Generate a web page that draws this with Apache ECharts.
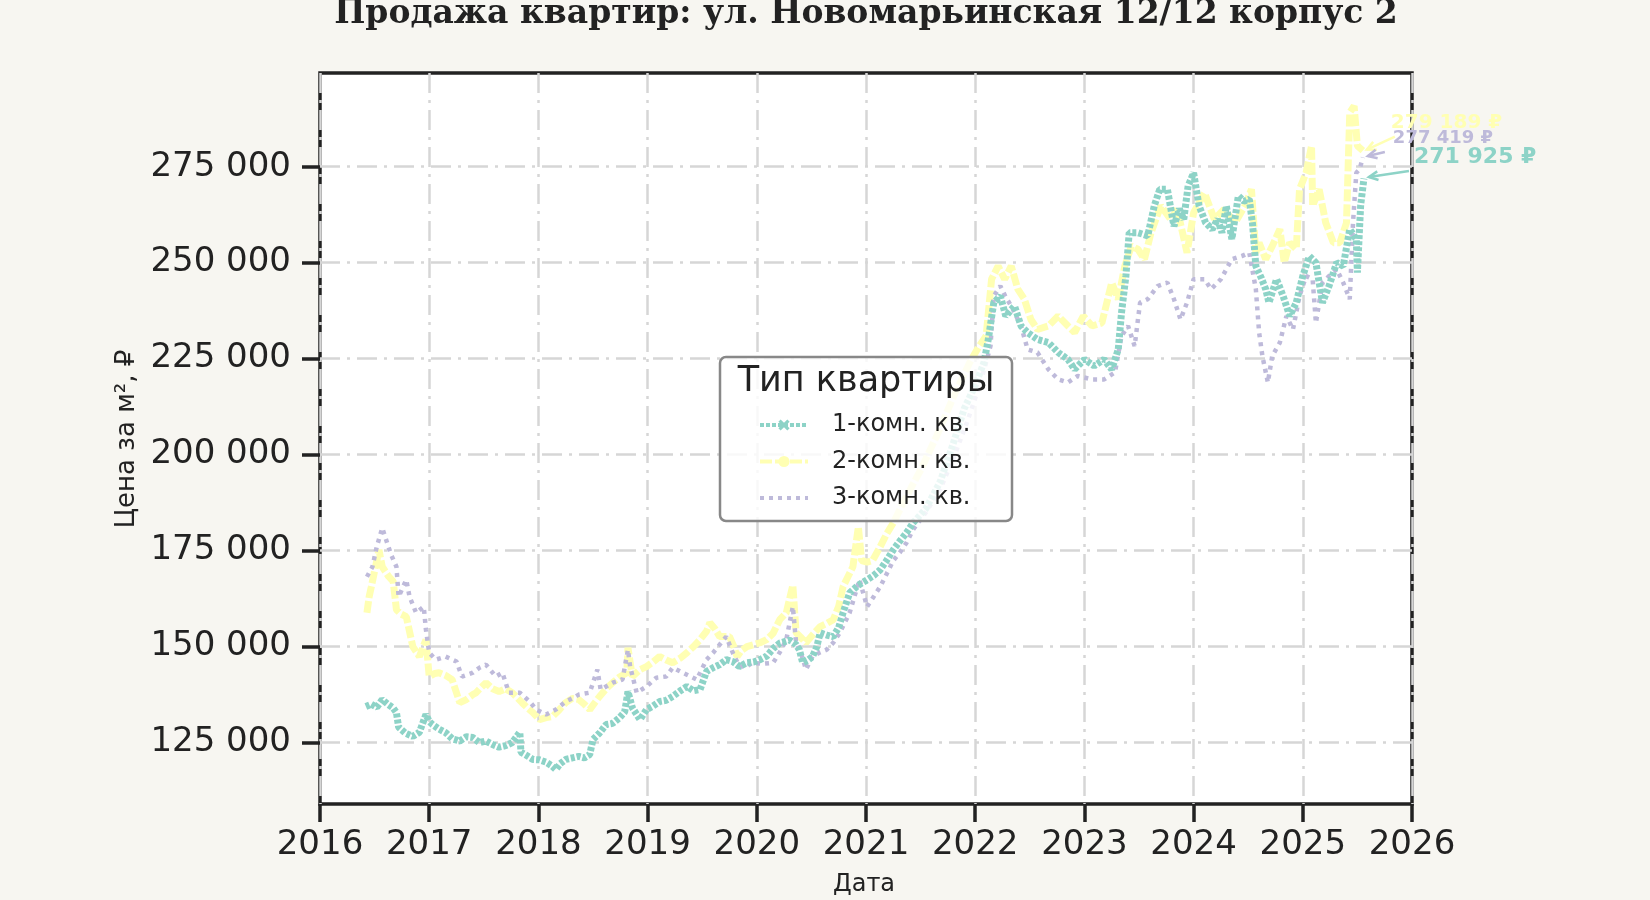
<!DOCTYPE html>
<html>
<head>
<meta charset="utf-8">
<script src="https://cdn.jsdelivr.net/npm/echarts@6/dist/echarts.min.js"></script>
<style>
    html, body { margin: 0; padding: 0; background: #f7f6f1; }
    #main { width: 1650px; height: 900px; }
</style>
</head>
<body>
<div id="main"></div>
<script>
// даты в долях года, цены за м2
var years1 = [2016.42, 2016.47, 2016.52, 2016.57, 2016.62, 2016.67, 2016.70, 2016.72, 2016.78, 2016.85, 2016.91, 2016.97,
    2017.00, 2017.03, 2017.09, 2017.15, 2017.21, 2017.28, 2017.34, 2017.40, 2017.46, 2017.52, 2017.58, 2017.64, 2017.70, 2017.76, 2017.80, 2017.83, 2017.84, 2017.90, 2017.95,
    2018.01, 2018.07, 2018.12, 2018.16, 2018.20, 2018.25, 2018.31, 2018.37, 2018.42, 2018.47, 2018.50, 2018.56, 2018.62, 2018.68, 2018.74, 2018.79, 2018.82, 2018.86, 2018.93, 2018.99,
    2019.05, 2019.11, 2019.17, 2019.23, 2019.30, 2019.36, 2019.42, 2019.48, 2019.54, 2019.60, 2019.66, 2019.72, 2019.78, 2019.84, 2019.91, 2019.97,
    2020.03, 2020.09, 2020.15, 2020.21, 2020.30, 2020.36, 2020.39, 2020.42, 2020.47, 2020.51, 2020.55, 2020.58, 2020.64, 2020.70, 2020.75, 2020.79, 2020.85, 2020.93,
    2021.01, 2021.07, 2021.13, 2021.19, 2021.25, 2021.31, 2021.37, 2021.43, 2021.55, 2021.68, 2021.80, 2021.90,
    2022.00, 2022.08, 2022.12, 2022.17, 2022.23, 2022.28, 2022.36, 2022.42, 2022.48, 2022.57, 2022.67, 2022.76, 2022.85, 2022.91,
    2023.00, 2023.09, 2023.18, 2023.25, 2023.31, 2023.34, 2023.38, 2023.41, 2023.49, 2023.58, 2023.64, 2023.69, 2023.76, 2023.82, 2023.87, 2023.91, 2023.95,
    2024.00, 2024.05, 2024.11, 2024.17, 2024.22, 2024.26, 2024.30, 2024.35, 2024.41, 2024.46, 2024.51, 2024.54, 2024.57, 2024.62, 2024.66, 2024.69, 2024.76, 2024.82, 2024.88, 2024.94,
    2025.00, 2025.06, 2025.12, 2025.18, 2025.24, 2025.31, 2025.37, 2025.43, 2025.49, 2025.50, 2025.53, 2025.56];
var price1 = [134400, 135000, 134200, 136200, 135000, 134000, 132800, 129000, 127500, 126600, 127700, 132300,
    130500, 129700, 128500, 127600, 126000, 125400, 126500, 126300, 125000, 125400, 124500, 123800, 124200, 125000, 126500, 127700, 122500, 121500, 120600,
    120500, 119900, 119000, 118000, 119500, 120600, 121000, 121400, 121000, 121900, 125800, 127500, 129700, 130000, 131400, 133000, 138300, 134100, 131000, 133600,
    134500, 135700, 136000, 137000, 138500, 139600, 138500, 138800, 143500, 144500, 145300, 146600, 146100, 144800, 145800, 146000,
    146600, 147500, 149500, 150900, 151700, 150500, 149200, 145800, 146500, 147400, 150000, 153600, 153000, 152600, 155000, 158800, 164000, 166000,
    167400, 168500, 170000, 172500, 175200, 177500, 179600, 182200, 186000, 193000, 203000, 212000,
    218000, 224000, 230000, 239600, 241300, 236100, 238700, 233500, 231800, 230000, 229200, 226600, 224800, 222200,
    224800, 223100, 224800, 222200, 227400, 237000, 246500, 257800, 257800, 257000, 264800, 269100, 269100, 259500, 264000, 261300, 270000,
    273400, 264800, 260400, 258700, 261300, 257800, 264800, 256100, 267400, 266000, 266500, 260000, 249100, 246000, 243100, 239600, 245700, 241300, 236100, 239600,
    246500, 251700, 250000, 239600, 243900, 250000, 249100, 258700, 256100, 247400, 265000, 271925];

var years2 = [2016.43, 2016.45, 2016.47, 2016.51, 2016.54, 2016.57, 2016.63, 2016.67, 2016.70, 2016.74, 2016.79, 2016.85, 2016.91, 2016.97,
    2017.00, 2017.05, 2017.09, 2017.15, 2017.21, 2017.28, 2017.34, 2017.40, 2017.43, 2017.48, 2017.52, 2017.58, 2017.64, 2017.70, 2017.76, 2017.85, 2017.90, 2017.95,
    2018.01, 2018.07, 2018.13, 2018.19, 2018.25, 2018.31, 2018.37, 2018.42, 2018.47, 2018.52, 2018.56, 2018.62, 2018.68, 2018.74, 2018.81, 2018.82, 2018.86, 2018.93, 2018.99,
    2019.05, 2019.11, 2019.17, 2019.23, 2019.30, 2019.36, 2019.42, 2019.48, 2019.54, 2019.57, 2019.62, 2019.66, 2019.75, 2019.79, 2019.82, 2019.86, 2019.91, 2019.97,
    2020.03, 2020.09, 2020.15, 2020.21, 2020.27, 2020.33, 2020.36, 2020.40, 2020.45, 2020.51, 2020.58, 2020.64, 2020.70, 2020.75, 2020.79, 2020.84, 2020.88, 2020.93, 2020.96,
    2021.01, 2021.06, 2021.13, 2021.19, 2021.25, 2021.35, 2021.50, 2021.65, 2021.80, 2021.95,
    2022.03, 2022.10, 2022.15, 2022.21, 2022.27, 2022.33, 2022.39, 2022.45, 2022.51, 2022.57, 2022.67, 2022.76, 2022.85, 2022.91, 2022.99,
    2023.07, 2023.16, 2023.25, 2023.31, 2023.37, 2023.43, 2023.49, 2023.55, 2023.61, 2023.70, 2023.79, 2023.85, 2023.94,
    2024.00, 2024.10, 2024.19, 2024.28, 2024.38, 2024.47, 2024.53, 2024.57, 2024.60, 2024.66, 2024.72, 2024.79, 2024.83, 2024.88, 2024.94, 2024.97,
    2025.03, 2025.08, 2025.09, 2025.15, 2025.21, 2025.28, 2025.34, 2025.40, 2025.43, 2025.47, 2025.50, 2025.55];
var price2 = [158800, 163000, 165600, 171000, 175200, 170800, 168200, 167000, 159600, 158500, 157800, 150000, 147400, 151800,
    142200, 143000, 143200, 142500, 141400, 135400, 136200, 137500, 138000, 139500, 140600, 139000, 138300, 139000, 138000, 135400, 134000, 132800,
    131000, 131500, 131800, 133500, 135400, 136500, 136200, 135000, 133600, 135500, 137000, 139000, 140600, 142000, 143200, 149700, 142200, 144000, 144800,
    146000, 147400, 146500, 145800, 147000, 148400, 150000, 151800, 154000, 156200, 154500, 152600, 152600, 150000, 147400, 149000, 150000, 150500,
    151000, 151800, 153500, 157000, 158800, 166000, 153600, 152500, 151000, 153000, 155200, 156000, 157000, 160500, 165600, 168500, 170800, 181200, 172400,
    172000, 172400, 176000, 179400, 182200, 188000, 196000, 205000, 215000, 224000,
    228000, 230900, 245700, 249100, 245700, 249100, 243100, 240500, 235200, 232600, 233500, 236100, 233500, 231800, 236100,
    233500, 234300, 244800, 240500, 249100, 254300, 253500, 250900, 257800, 264800, 261300, 263900, 252600,
    263000, 268200, 261300, 263900, 260400, 264800, 269100, 252600, 255200, 250900, 254300, 258700, 250000, 255200, 253500, 269100,
    273400, 280400, 264800, 269100, 260400, 255200, 255200, 260400, 289100, 290800, 280400, 279189];

var years3 = [2016.43, 2016.48, 2016.52, 2016.57, 2016.60, 2016.65, 2016.70, 2016.72, 2016.79, 2016.82, 2016.88, 2016.95, 2016.97,
    2017.00, 2017.06, 2017.15, 2017.25, 2017.30, 2017.40, 2017.46, 2017.52, 2017.61, 2017.67, 2017.73, 2017.83, 2017.92, 2017.98,
    2018.07, 2018.16, 2018.25, 2018.31, 2018.37, 2018.47, 2018.54, 2018.57, 2018.68, 2018.77, 2018.82, 2018.84, 2018.90, 2018.99,
    2019.08, 2019.17, 2019.23, 2019.32, 2019.45, 2019.54, 2019.60, 2019.66, 2019.72, 2019.78, 2019.84, 2019.91, 2019.96,
    2020.05, 2020.15, 2020.21, 2020.27, 2020.33, 2020.36, 2020.42, 2020.45, 2020.51, 2020.58, 2020.64, 2020.70, 2020.76, 2020.85, 2020.94,
    2021.01, 2021.07, 2021.13, 2021.19, 2021.25, 2021.31, 2021.37, 2021.43, 2021.55, 2021.68, 2021.80, 2021.92,
    2022.04, 2022.10, 2022.14, 2022.17, 2022.23, 2022.28, 2022.33, 2022.42, 2022.48, 2022.57, 2022.67, 2022.76, 2022.85, 2022.94,
    2023.07, 2023.18, 2023.28, 2023.34, 2023.40, 2023.46, 2023.51, 2023.58, 2023.67, 2023.76, 2023.82, 2023.88, 2023.94,
    2024.00, 2024.10, 2024.16, 2024.25, 2024.35, 2024.44, 2024.51, 2024.57, 2024.60, 2024.63, 2024.68, 2024.72, 2024.79, 2024.85, 2024.91, 2024.97,
    2025.03, 2025.09, 2025.12, 2025.18, 2025.24, 2025.31, 2025.37, 2025.43, 2025.46, 2025.49, 2025.52, 2025.55];
var price3 = [168200, 170800, 176000, 180900, 178300, 174000, 170800, 163000, 167400, 163000, 158800, 160400, 154400,
    148400, 146600, 147400, 146100, 142200, 143200, 144500, 145300, 142200, 143200, 138000, 138000, 135700, 133600,
    132300, 133600, 135700, 136500, 137500, 138000, 144000, 138800, 140600, 141400, 149200, 144800, 138000, 139600,
    141900, 142200, 144500, 143200, 141400, 146600, 148400, 150500, 152600, 148400, 144800, 144800, 145800,
    145500, 145800, 148500, 151800, 160400, 151000, 147000, 144000, 147400, 148500, 149200, 151000, 153600, 158800, 167400,
    160400, 163000, 165600, 169000, 172400, 174500, 177000, 180400, 185000, 191000, 199000, 208000,
    218000, 224000, 228300, 241300, 243900, 241000, 238700, 233500, 227400, 226600, 222200, 219600, 218800, 220500,
    219600, 219600, 221400, 230900, 233500, 228300, 239600, 240500, 243900, 244800, 240500, 235200, 239600,
    245700, 245700, 243100, 245700, 250900, 251700, 252600, 243100, 231800, 225700, 218800, 225700, 229200, 236100, 232600, 241300,
    246500, 245700, 234300, 244800, 246500, 248300, 244800, 240500, 260400, 273400, 274300, 277419];

var seriesNames = ['1-комн. кв.', '2-комн. кв.', '3-комн. кв.'];
var seriesColors = ['#8dd3c7', '#ffffb3', '#bebada'];
var priceTicks = [125000, 150000, 175000, 200000, 225000, 250000, 275000];

var font = 'DejaVu Sans';
var dark = '#222222';

function fmtPrice(v) {
    return String(v).replace(/\B(?=(\d{3})+(?!\d))/g, ' ');
}

function makeData(years, prices) {
    var res = [];
    for (var i = 0; i < years.length; i++) {
        res.push([years[i], prices[i]]);
    }
    return res;
}

var allYears = [years1, years2, years3];
var allPrices = [price1, price2, price3];

var gridLine = { color: '#d6d6d6', width: 2.5, type: [20, 7, 3, 7] };

var option = {
    backgroundColor: '#f7f6f1',
    animation: false,
    textStyle: { fontFamily: font },
    grid: {
        left: 320, right: 238, top: 73, bottom: 96,
        show: true, backgroundColor: '#ffffff', borderColor: dark, borderWidth: 3.5
    },
    xAxis: {
        type: 'value',
        min: 2016,
        max: 2026,
        interval: 1,
        axisLine: { show: false },
        axisTick: { show: true, length: 18, lineStyle: { color: dark, width: 3.5 } },
        axisLabel: {
            fontSize: 34, color: dark, margin: 24,
            formatter: function (v) { return String(v); }
        },
        splitLine: { show: true, lineStyle: gridLine }
    },
    yAxis: {
        type: 'value',
        min: 109000,
        max: 299400,
        axisLine: { show: false },
        axisTick: { show: true, length: 18, lineStyle: { color: dark, width: 3.5 }, customValues: priceTicks },
        axisLabel: { customValues: priceTicks, fontSize: 34, color: dark, margin: 29, formatter: fmtPrice },
        splitLine: { show: true, lineStyle: gridLine }
    },
    legend: {
        data: [
            { name: seriesNames[0] },
            { name: seriesNames[1] },
            { name: seriesNames[2], itemStyle: { opacity: 0 } }
        ],
        orient: 'vertical',
        left: 758,
        top: 412,
        z: 21,
        padding: 0,
        itemWidth: 48,
        itemHeight: 14,
        itemGap: 10.5,
        lineStyle: { width: 4 },
        textStyle: { fontSize: 24, color: dark, lineHeight: 26, padding: [0, 0, 0, 19] }
    },
    graphic: [
        {
            type: 'text', x: 866, y: 14, z: 30,
            style: {
                text: 'Продажа квартир: ул. Новомарьинская 12/12 корпус 2',
                fontFamily: 'DejaVu Serif', fontWeight: 'bold', fontSize: 33, fill: dark,
                align: 'center', verticalAlign: 'middle'
            }
        },
        {
            type: 'text', x: 127, y: 439, rotation: Math.PI / 2, z: 30,
            style: { text: 'Цена за м², ₽', fontFamily: font, fontSize: 26, fill: dark, align: 'center', verticalAlign: 'middle' }
        },
        {
            type: 'text', x: 864, y: 885, z: 30,
            style: { text: 'Дата', fontFamily: font, fontSize: 24, fill: dark, align: 'center', verticalAlign: 'middle' }
        },
        {
            type: 'rect', z: 20,
            shape: { x: 720, y: 357, width: 292, height: 164, r: 6 },
            style: { fill: 'rgba(255,255,255,0.82)', stroke: '#888888', lineWidth: 2.5 }
        },
        {
            type: 'text', x: 866, y: 382, z: 22,
            style: { text: 'Тип квартиры', fontFamily: font, fontSize: 35, fill: dark, align: 'center', verticalAlign: 'middle' }
        }
    ],
    series: [
        {
            name: seriesNames[0], type: 'line', data: makeData(years1, price1),
            showSymbol: false,
            symbol: 'path://M2,0L5,3L8,0L10,2L7,5L10,8L8,10L5,7L2,10L0,8L3,5L0,2Z', symbolSize: 9,
            itemStyle: { color: seriesColors[0] },
            lineStyle: { color: seriesColors[0], width: 7, type: [4, 2] },
            z: 3
        },
        {
            name: seriesNames[1], type: 'line', data: makeData(years2, price2),
            showSymbol: false, symbol: 'circle', symbolSize: 8,
            itemStyle: { color: seriesColors[1] },
            lineStyle: { color: seriesColors[1], width: 7, type: [12, 3] },
            z: 2
        },
        {
            name: seriesNames[2], type: 'line', data: makeData(years3, price3),
            showSymbol: false, symbol: 'none',
            itemStyle: { color: seriesColors[2] },
            lineStyle: { color: seriesColors[2], width: 4.5, type: [4, 5] },
            z: 2
        }
    ]
};

var chart = echarts.init(document.getElementById('main'));
chart.setOption(option);

// подписи последних значений со стрелками
function arrowParts(x1, y1, x2, y2, color) {
    var a = Math.atan2(y2 - y1, x2 - x1);
    var h = 10;
    return [
        { type: 'line', z: 30, shape: { x1: x1, y1: y1, x2: x2, y2: y2 }, style: { stroke: color, lineWidth: 2.5 } },
        {
            type: 'polyline', z: 30,
            shape: { points: [
                [x2 - h * Math.cos(a - 0.45), y2 - h * Math.sin(a - 0.45)],
                [x2, y2],
                [x2 - h * Math.cos(a + 0.45), y2 - h * Math.sin(a + 0.45)]
            ] },
            style: { stroke: color, lineWidth: 2.5, fill: null }
        }
    ];
}

var labelLayout = [
    { dx: 50, dy: -21, size: 22, ax: 45, ay: -7.5, tx: 5, ty: -1.5 },
    { dx: 28, dy: -28, size: 20, ax: 32, ay: -14, tx: 4, ty: -1 },
    { dx: 30, dy: -19, size: 18, ax: 22, ay: -5.4, tx: 5, ty: -1.4 }
];

for (var s = 0; s < 3; s++) {
    var yrs = allYears[s], prs = allPrices[s];
    var last = prs[prs.length - 1];
    var p = chart.convertToPixel({ gridIndex: 0 }, [yrs[yrs.length - 1], last]);
    var L = labelLayout[s];
    option.graphic = option.graphic.concat(arrowParts(p[0] + L.ax, p[1] + L.ay, p[0] + L.tx, p[1] + L.ty, seriesColors[s]));
    option.graphic.push({
        type: 'text', x: p[0] + L.dx, y: p[1] + L.dy, z: 31,
        style: { text: fmtPrice(last) + ' ₽', fontFamily: font, fontWeight: 'bold', fontSize: L.size, fill: seriesColors[s], verticalAlign: 'middle' }
    });
}
chart.setOption(option);
</script>
</body>
</html>
